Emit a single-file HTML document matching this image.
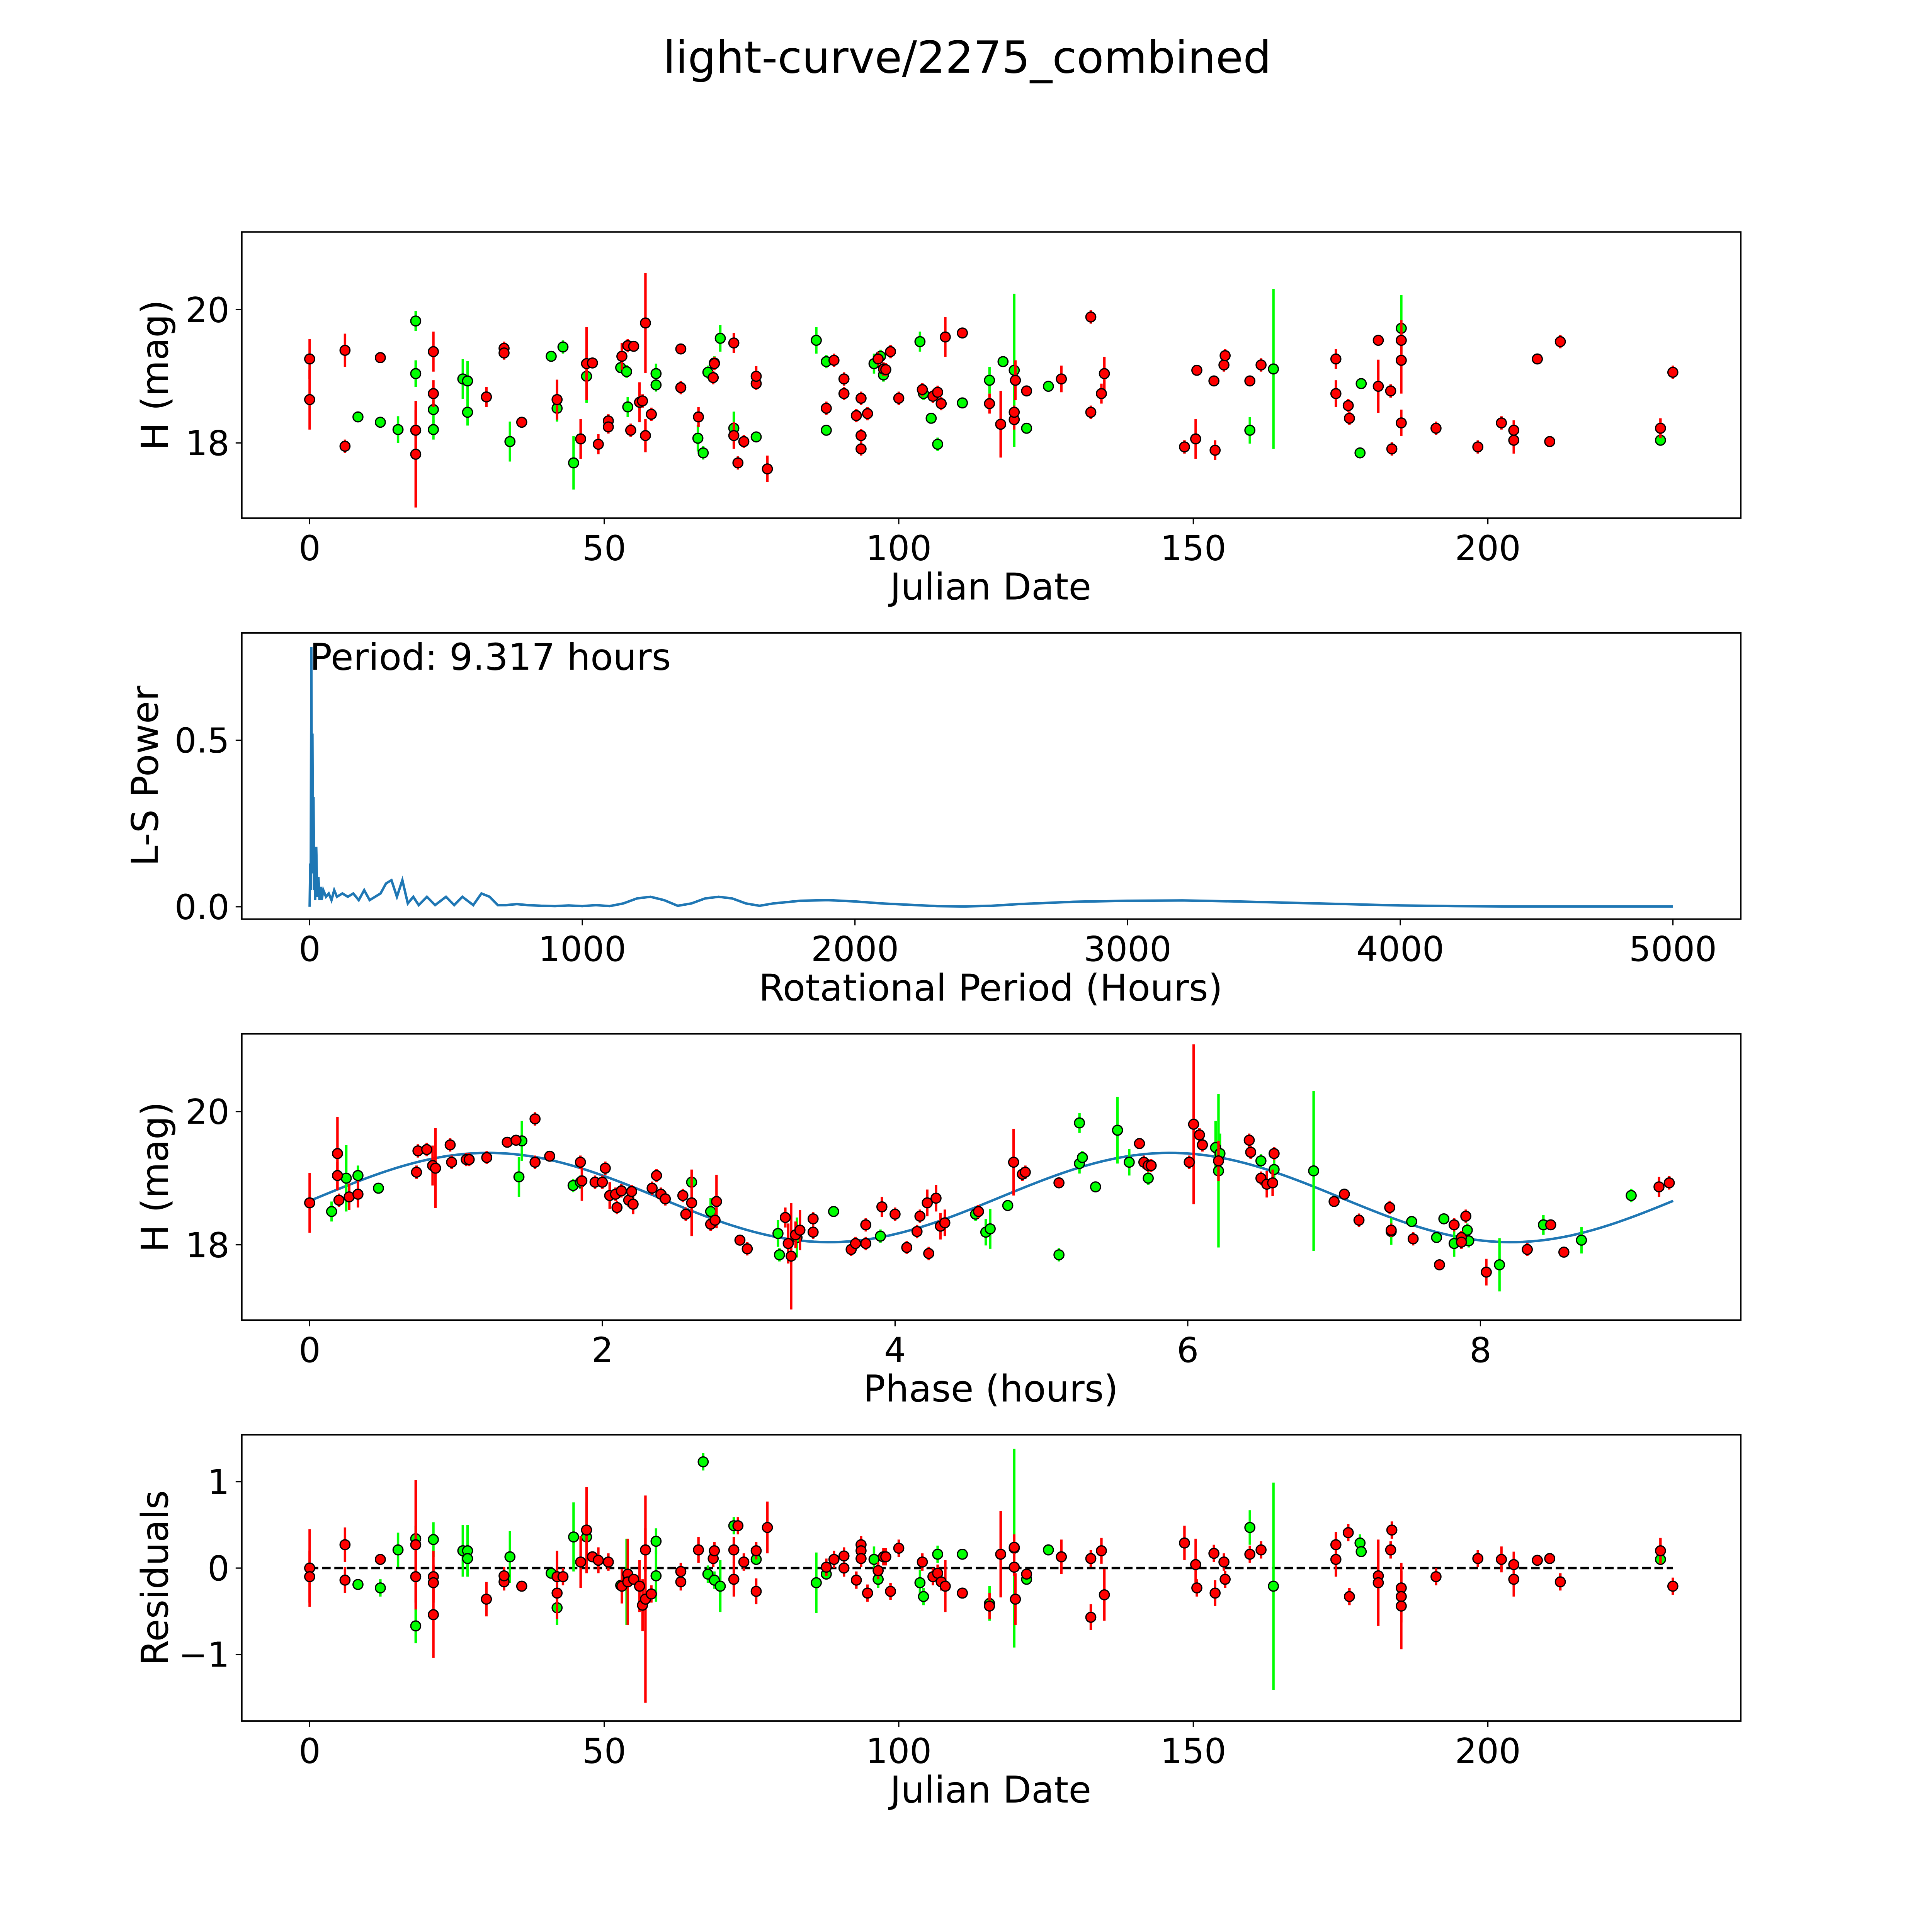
<!DOCTYPE html>
<html><head><meta charset="utf-8"><style>html,body{margin:0;padding:0;background:#fff;width:100%;height:100%;overflow:hidden}svg{display:block;position:fixed;left:0;top:0;width:100vw;height:100vh}text{font-family:"DejaVu Sans","Liberation Sans",sans-serif;fill:#000}</style></head>
<body>
<svg id="fig" xmlns="http://www.w3.org/2000/svg" viewBox="0 0 1566 1566" preserveAspectRatio="none">
<rect width="1566" height="1566" fill="#fff"/>
<text x="784" y="59" font-size="36" text-anchor="middle">light-curve/2275_combined</text>
<g id="g"></g>
</svg>
<script>
// ---- Panel 1: raw light curve [date, mag, err]
const rawRed=[[0,18.65,.45],[0,19.26,.3],[6,17.95,.1],[6,19.39,.25],[12,19.28,.05],[18,17.83,.8],[18,18.19,.3],[21,19.37,.3],[21,18.74,.2],[30,18.69,.15],[33,19.42,.1],[33,19.35,.1],[36,18.31,.05],[42,18.65,.3],[46,18.06,.3],[47,19.19,.55],[48,19.2,.05],[49,17.98,.15],[50.7,18.33,.1],[50.7,18.24,.1],[53,19.3,.2],[54,19.46,.1],[54.5,18.19,.1],[55,19.45,.05],[56,18.61,.3],[56.5,18.63,.1],[57,19.8,.75],[57,18.11,.25],[58,18.43,.1],[63,19.41,.05],[63,18.83,.1],[66,18.39,.15],[68.5,18.98,.1],[68.7,19.19,.1],[72,19.5,.15],[72,18.11,.2],[72.7,17.7,.1],[73.7,18.02,.1],[75.8,18.89,.1],[75.8,19.0,.15],[77.7,17.61,.2],[87.7,18.52,.1],[89,19.24,.1],[90.7,18.96,.1],[90.7,18.74,.1],[92.8,18.41,.1],[93.6,17.91,.1],[93.6,18.11,.1],[93.6,18.67,.1],[94.7,18.44,.1],[96.5,19.26,.1],[97.4,19.11,.1],[97.8,19.1,.1],[98.6,19.37,.1],[100,18.67,.1],[104,18.8,.1],[105.8,18.7,.1],[106.6,18.76,.1],[107.2,18.59,.1],[107.9,19.59,.3],[110.8,19.65,.05],[115.4,18.59,.15],[117.3,18.28,.5],[119.6,18.35,.15],[119.6,18.46,.1],[119.8,18.94,.3],[121.7,18.78,.05],[127.6,18.96,.2],[132.6,19.89,.1],[132.6,18.46,.1],[134.4,18.74,.15],[134.9,19.04,.25],[148.5,17.94,.1],[150.4,18.06,.3],[150.6,19.09,.05],[153.5,18.93,.05],[153.7,17.89,.15],[155.2,19.17,.1],[155.4,19.31,.1],[159.6,18.93,.05],[161.5,19.17,.1],[174.2,19.26,.15],[174.2,18.74,.2],[176.3,18.56,.1],[176.5,18.37,.1],[181.4,19.54,.05],[181.4,18.85,.4],[183.5,18.78,.1],[183.7,17.91,.1],[185.3,18.3,.2],[185.3,19.24,.5],[185.3,19.54,.3],[191.2,18.22,.1],[198.3,17.94,.1],[202.3,18.3,.1],[204.4,18.19,.15],[204.4,18.04,.2],[210.5,18.02,.05],[208.4,19.26,.05],[212.3,19.52,.1],[229.3,18.22,.15],[231.4,19.06,.1]];
const rawGreen=[[8.2,18.39,.05],[12,18.31,.05],[15,18.2,.2],[18,19.83,.15],[18,19.04,.2],[21,18.5,.2],[21,18.2,.15],[26,18.96,.3],[26.8,18.93,.3],[26.8,18.46,.2],[34,18.02,.3],[41,19.3,.05],[42,18.52,.2],[43,19.44,.1],[44.8,17.7,.4],[47,19.0,.4],[52.8,19.13,.05],[53.8,19.07,.1],[54,18.54,.15],[58.8,19.04,.15],[58.8,18.87,.1],[65.9,18.07,.2],[66.8,17.85,.1],[67.6,19.06,.1],[68.7,19.2,.1],[69.7,19.57,.2],[72,18.22,.25],[75.8,18.09,.05],[86,19.54,.2],[87.7,18.19,.05],[87.7,19.22,.1],[95.8,19.19,.15],[96.5,19.26,.1],[96.9,19.3,.1],[97.4,19.02,.1],[103.6,19.52,.15],[104.2,18.74,.1],[105.5,18.37,.05],[106.6,17.98,.1],[110.8,18.6,.05],[115.4,18.94,.2],[117.7,19.22,.05],[119.6,19.09,1.15],[121.7,18.22,.05],[125.4,18.85,.05],[159.6,18.19,.2],[163.6,19.11,1.2],[178.3,17.85,.05],[178.5,18.89,.05],[185.3,19.72,.5],[229.3,18.04,.05]];
// ---- Panel 2: periodogram
const lsPeriod=[0,2,4,6,8,10,12,14,16,18,20,24,28,32,36,40,44,50,60,70,80,90,100,120,140,160,180,200,220,240,260,280,300,320,340,360,380,400,430,460,500,530,560,600,630,660,690,720,760,800,850,900,950,1000,1050,1100,1150,1200,1250,1300,1350,1400,1450,1500,1550,1600,1650,1700,1800,1900,2000,2100,2200,2300,2400,2500,2600,2800,3000,3200,3400,3600,3800,4000,4200,4400,4600,4800,5000];
const lsPower=[0,0.13,0.05,0.78,0.3,0.52,0.1,0.33,0.05,0.12,0.02,0.18,0.03,0.09,0.02,0.06,0.02,0.05,0.03,0.04,0.02,0.05,0.03,0.04,0.03,0.04,0.02,0.05,0.02,0.03,0.04,0.07,0.08,0.03,0.08,0.01,0.03,0.005,0.03,0.005,0.03,0.005,0.03,0.005,0.04,0.03,0.005,0.005,0.008,0.005,0.003,0.002,0.004,0.002,0.005,0.002,0.01,0.025,0.03,0.02,0.003,0.01,0.025,0.03,0.025,0.01,0.003,0.01,0.018,0.02,0.016,0.01,0.006,0.002,0.001,0.003,0.008,0.015,0.018,0.019,0.016,0.012,0.008,0.004,0.002,0.001,0.001,0.001,0.001];
// ---- Panel 3: phased curve [phase, mag, err]
const phRed=[[0,18.63,.45],[0.19,19.37,.55],[0.19,19.04,.2],[0.2,18.67,.1],[0.27,18.72,.2],[0.33,18.76,.2],[0.73,19.09,.1],[0.74,19.41,.1],[0.8,19.43,.1],[0.84,19.19,.3],[0.86,19.15,.6],[0.96,19.5,.1],[0.97,19.24,.1],[1.07,19.28,.1],[1.09,19.28,.1],[1.21,19.31,.1],[1.35,19.54,.05],[1.41,19.57,.05],[1.54,19.24,.1],[1.54,19.89,.1],[1.64,19.33,.05],[1.85,19.24,.1],[1.86,18.96,.3],[1.95,18.94,.1],[2.0,18.94,.1],[2.02,19.15,.1],[2.05,18.74,.2],[2.09,18.76,.1],[2.1,18.56,.1],[2.13,18.81,.1],[2.18,18.67,.1],[2.2,18.8,.1],[2.21,18.61,.15],[2.34,18.85,.1],[2.37,19.04,.1],[2.4,18.76,.1],[2.43,18.69,.1],[2.55,18.74,.1],[2.57,18.46,.1],[2.61,18.63,.5],[2.74,18.31,.1],[2.77,18.37,.1],[2.78,18.65,.4],[2.94,18.07,.05],[2.99,17.94,.1],[3.25,18.41,.15],[3.27,18.02,.3],[3.29,17.83,.8],[3.32,18.15,.2],[3.35,18.22,.3],[3.44,18.39,.1],[3.44,18.19,.1],[3.7,17.93,.1],[3.73,18.02,.1],[3.8,18.02,.1],[3.8,18.3,.1],[3.91,18.57,.15],[4.0,18.46,.1],[4.08,17.96,.1],[4.15,18.2,.1],[4.17,18.43,.1],[4.22,18.63,.2],[4.23,17.87,.1],[4.28,18.7,.2],[4.31,18.28,.2],[4.34,18.33,.2],[4.57,18.5,.1],[4.81,19.24,.5],[4.87,19.06,.1],[4.89,19.09,.1],[5.12,18.93,.05],[5.67,19.52,.05],[5.7,19.24,.1],[5.73,19.19,.1],[5.75,19.19,.1],[6.01,19.24,.1],[6.04,19.81,1.2],[6.08,19.65,.1],[6.1,19.5,.1],[6.21,19.26,.3],[6.42,19.57,.1],[6.43,19.39,.1],[6.5,19.0,.1],[6.54,18.91,.2],[6.58,18.93,.2],[6.59,19.37,.1],[7.0,18.65,.05],[7.07,18.76,.05],[7.17,18.37,.1],[7.38,18.56,.1],[7.39,18.22,.1],[7.54,18.09,.1],[7.72,17.7,.05],[7.82,18.3,.1],[7.87,18.11,.1],[7.9,18.43,.1],[7.87,18.04,.1],[8.04,17.59,.2],[8.32,17.93,.1],[8.48,18.3,.05],[8.57,17.89,.05],[9.22,18.87,.15],[9.29,18.93,.1]];
const phGreen=[[0.15,18.5,.15],[0.25,19.0,.5],[0.33,19.04,.15],[0.47,18.85,.05],[1.43,19.02,.3],[1.45,19.56,.3],[1.8,18.89,.1],[1.85,18.94,.1],[2.61,18.94,.1],[2.74,18.5,.2],[3.2,18.17,.2],[3.21,17.85,.1],[3.33,18.11,.3],[3.58,18.5,.05],[3.9,18.13,.1],[4.55,18.46,.1],[4.62,18.19,.2],[4.65,18.24,.3],[4.77,18.59,.05],[5.12,17.85,.1],[5.26,19.22,.15],[5.26,19.83,.15],[5.28,19.31,.1],[5.37,18.87,.05],[5.52,19.72,.5],[5.6,19.24,.2],[5.73,19.0,.1],[6.19,19.46,.4],[6.22,19.37,.3],[6.21,19.11,1.15],[6.5,19.26,.1],[6.59,19.13,.2],[6.86,19.11,1.2],[7.39,18.2,.2],[7.53,18.35,.05],[7.7,18.11,.05],[7.75,18.39,.05],[7.82,18.02,.2],[7.91,18.22,.1],[7.92,18.06,.1],[8.43,18.3,.15],[8.13,17.7,.4],[8.69,18.07,.2],[9.03,18.74,.1]];
// model fit
const fitMean=18.71, fitAmp=0.67, fitPeak=1.22, fitPeriod=9.317;
// ---- Panel 4: residuals [date, resid, err]
const resRed=[[0,0,.45],[0,-.1,.3],[6,.27,.2],[6,-.14,.15],[12,.1,.05],[18,.27,.75],[18,-.1,.3],[21,-.1,.3],[21,-.54,.5],[21,-.17,.2],[30,-.36,.2],[33,-.16,.1],[33,-.09,.1],[36,-.21,.05],[42,-.29,.3],[42,-.1,.3],[43,-.1,.1],[46,.07,.3],[47,.44,.5],[48,.13,.05],[49,.09,.15],[50.7,.07,.1],[53,-.21,.2],[54,-.07,.1],[54,-.16,.5],[55,-.13,.05],[56,-.21,.3],[56.5,-.43,.3],[57,.21,.25],[57,-.36,1.2],[58,-.3,.1],[63,-.16,.1],[63,-.04,.1],[66,.21,.15],[68.5,.11,.1],[68.7,.2,.1],[72,.21,.15],[72,-.13,.2],[72.7,.49,.1],[73.7,.07,.1],[75.8,.2,.1],[75.8,-.27,.15],[77.7,.47,.3],[87.7,.01,.1],[89,.1,.1],[90.7,.14,.1],[90.7,0,.1],[92.8,-.14,.1],[93.6,.27,.1],[93.6,.2,.1],[93.6,.11,.1],[94.7,-.29,.1],[96.5,-.03,.1],[97.4,.13,.1],[97.8,.13,.1],[98.6,-.27,.1],[100,.23,.1],[104,.07,.1],[105.8,-.1,.1],[106.6,-.06,.1],[107.2,-.16,.1],[107.9,-.21,.3],[110.8,-.29,.05],[115.4,-.44,.15],[117.3,.16,.5],[119.6,.24,.15],[119.6,.01,.1],[119.8,-.36,.3],[121.7,-.07,.05],[127.6,.13,.2],[132.6,-.57,.15],[132.6,.11,.1],[134.4,.2,.15],[134.9,-.31,.3],[148.5,.29,.2],[150.4,.04,.3],[150.6,-.23,.1],[153.5,.17,.1],[153.7,-.29,.15],[155.2,.07,.1],[155.4,-.13,.1],[159.6,.16,.1],[161.5,.21,.1],[174.2,.27,.15],[174.2,.1,.2],[176.3,.41,.1],[176.5,-.33,.1],[181.4,-.09,.05],[181.4,-.17,.5],[183.5,.21,.1],[183.7,.44,.1],[185.3,-.23,.2],[185.3,-.33,.3],[185.3,-.44,.5],[191.2,-.1,.1],[198.3,.11,.1],[202.3,.1,.15],[204.4,.04,.15],[204.4,-.13,.2],[208.4,.09,.05],[210.5,.11,.05],[212.3,-.16,.1],[229.3,.2,.15],[231.4,-.21,.1]];
const resGreen=[[8.2,-.19,.05],[12,-.23,.1],[15,.21,.2],[18,.34,.15],[18,-.67,.2],[21,.33,.2],[26,.2,.3],[26.8,.2,.3],[26.8,.11,.2],[34,.13,.3],[41,-.06,.05],[42,-.46,.2],[44.8,.36,.4],[47,.36,.4],[52.8,-.2,.05],[53.8,-.16,.5],[58.8,.31,.15],[58.8,-.09,.3],[66.8,1.23,.1],[67.6,-.07,.1],[68.7,-.14,.1],[69.7,-.21,.3],[72,.49,.1],[75.8,.1,.05],[86,-.17,.35],[87.7,-.07,.05],[95.8,.1,.15],[96.5,-.13,.1],[103.6,-.17,.15],[104.2,-.33,.1],[106.6,.16,.1],[110.8,.16,.05],[115.4,-.41,.2],[119.6,.23,1.15],[121.7,-.13,.05],[125.4,.21,.05],[159.6,.47,.2],[163.6,-.21,1.2],[178.3,.29,.1],[178.5,.19,.05],[229.3,.1,.05]];

const NS='http://www.w3.org/2000/svg';
const G=document.getElementById('g');
function mk(tag,attrs,parent){const e=document.createElementNS(NS,tag);for(const k in attrs)e.setAttribute(k,attrs[k]);(parent||G).appendChild(e);return e;}
function lin(d0,d1,p0,p1){return v=>p0+(v-d0)*(p1-p0)/(d1-d0);}

const panels=[
 {top:188,x:lin(0,200,251,1206),y:lin(18,20,359,251),xt:[0,50,100,150,200],yt:[18,20],xl:'Julian Date',yl:'H (mag)',name:'raw-light-curve'},
 {top:513,x:lin(0,5000,251,1356),y:lin(0,0.5,735,600),xt:[0,1000,2000,3000,4000,5000],yt:[0,0.5],ytl:['0.0','0.5'],xl:'Rotational Period (Hours)',yl:'L-S Power',name:'periodogram'},
 {top:838,x:lin(0,8,251,1200),y:lin(18,20,1009,901),xt:[0,2,4,6,8],yt:[18,20],xl:'Phase (hours)',yl:'H (mag)',name:'phased-curve'},
 {top:1163,x:lin(0,200,251,1206),y:lin(0,1,1271,1201),xt:[0,50,100,150,200],yt:[-1,0,1],ytl:['\u22121','0','1'],xl:'Julian Date',yl:'Residuals',name:'residuals'}
];
const L=196,R=1411,H=232;
panels.forEach((p,i)=>{
 const g=mk('g',{});
 
 
 p.g=g;
 p.xt.forEach(t=>{const X=p.x(t);mk('line',{x1:X,x2:X,y1:p.top+H,y2:p.top+H+5,stroke:'#000','stroke-width':1},g);
  const tx=mk('text',{x:X,y:p.top+H+34,'font-size':28,'text-anchor':'middle'},g);tx.textContent=t;
  
  });
 p.yt.forEach((t,j)=>{const Y=p.y(t);mk('line',{x1:L-5,x2:L,y1:Y,y2:Y,stroke:'#000','stroke-width':1},g);
  const tx=mk('text',{x:L-10,y:Y+10,'font-size':28,'text-anchor':'end'},g);tx.textContent=p.ytl?p.ytl[j]:t;
  
  });
 const xl=mk('text',{x:803,y:p.top+H+66,'font-size':30,'text-anchor':'middle'},g);xl.textContent=p.xl;
 
 
 const cy=p.top+H/2;
 const yl=mk('text',{x:0,y:0,'font-size':30,'text-anchor':'middle',transform:`translate(${i==1?128:136},${cy}) rotate(-90)`},g);yl.textContent=p.yl;
 
 
});
function clip(p){return mk('g',{},p.g);}
function errpts(p,arr,col,name){
 const g=clip(p);
 arr.forEach(d=>{const X=p.x(d[0]),Y=p.y(d[1]);
  const l=mk('line',{x1:X,x2:X,y1:p.y(d[1]-d[2]),y2:p.y(d[1]+d[2]),stroke:col,'stroke-width':2},g);
  
  });
 arr.forEach(d=>{const c=mk('circle',{cx:p.x(d[0]),cy:p.y(d[1]),r:4,fill:col,stroke:'#000','stroke-width':1},g);
  
  });
}
errpts(panels[0],rawGreen,'#00ff00','green-band');
errpts(panels[0],rawRed,'#ff0000','red-band');
{const p=panels[1];let d='';lsPeriod.forEach((v,k)=>{d+=(k?'L':'M')+p.x(v).toFixed(2)+','+p.y(lsPower[k]).toFixed(2);});
 const pl=mk('path',{d:d,fill:'none',stroke:'#1f77b4','stroke-width':2},p.g);
 
 
 const t=mk('text',{x:251,y:543,'font-size':30},p.g);t.textContent='Period: 9.317 hours';
 
 }
{const p=panels[2];let d='';for(let k=0;k<=200;k++){const ph=fitPeriod*k/200;const m=fitMean+fitAmp*Math.cos(4*Math.PI*(ph-fitPeak)/fitPeriod);d+=(k?'L':'M')+p.x(ph).toFixed(2)+','+p.y(m).toFixed(2);}
 const pl=mk('path',{d:d,fill:'none',stroke:'#1f77b4','stroke-width':2},p.g);
 
 
 errpts(p,phGreen,'#00ff00','green-band');
 errpts(p,phRed,'#ff0000','red-band');}
{const p=panels[3];const zl=mk('line',{x1:p.x(0),x2:p.x(231.4),y1:p.y(0),y2:p.y(0),stroke:'#000','stroke-width':2,'stroke-dasharray':'7,3'},p.g);
 
 
 errpts(p,resGreen,'#00ff00','green-band');
 errpts(p,resRed,'#ff0000','red-band');}
panels.forEach(p=>{const r=mk('rect',{x:L,y:p.top,width:R-L,height:H,fill:'none',stroke:'#000','stroke-width':1.2},p.g);
 
 });
</script>
</body></html>
